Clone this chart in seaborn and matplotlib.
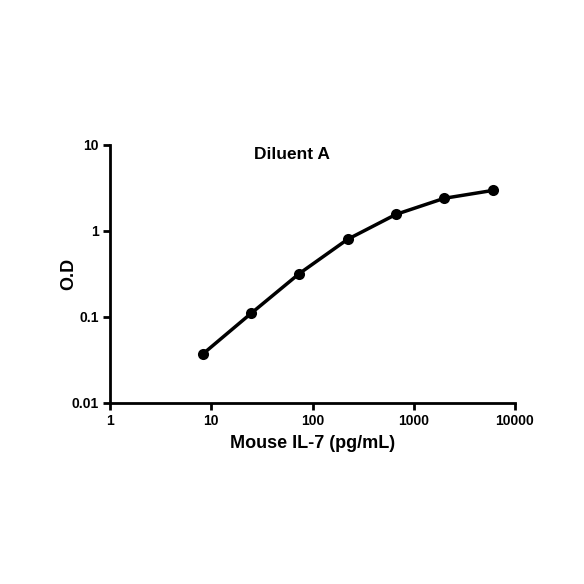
import matplotlib
matplotlib.use("Agg")
import numpy as np
import pandas as pd
import seaborn as sns
import matplotlib.pyplot as plt
from matplotlib.ticker import FixedLocator, FixedFormatter, NullLocator

# standard curve values
conc = [8.23, 24.7, 74.1, 222, 667, 2000, 6000]
od = [0.037, 0.110, 0.32, 0.80, 1.56, 2.40, 2.96]
x_ticks = [1, 10, 100, 1000, 10000]
x_labels = ["1", "10", "100", "1000", "10000"]
y_ticks = [0.01, 0.1, 1, 10]
y_labels = ["0.01", "0.1", "1", "10"]

df = pd.DataFrame({"conc": conc, "od": od})

sns.set_style("white")
plt.rcParams["font.family"] = ["Liberation Sans", "DejaVu Sans"]
plt.rcParams["text.color"] = "black"
plt.rcParams["axes.labelcolor"] = "black"

fig = plt.figure(figsize=(5.84, 5.84), dpi=100)
ax = fig.add_axes([110 / 584, 181 / 584, 405 / 584, 258 / 584])

sns.lineplot(data=df, x="conc", y="od", ax=ax, color="black", linewidth=2.5,
             marker="o", markersize=8, markeredgewidth=0, sort=True)

ax.set_xscale("log")
ax.set_yscale("log")
ax.set_xlim(1, 10000)
ax.set_ylim(0.01, 10)

ax.xaxis.set_major_locator(FixedLocator(x_ticks))
ax.xaxis.set_major_formatter(FixedFormatter(x_labels))
ax.xaxis.set_minor_locator(NullLocator())
ax.yaxis.set_major_locator(FixedLocator(y_ticks))
ax.yaxis.set_major_formatter(FixedFormatter(y_labels))
ax.yaxis.set_minor_locator(NullLocator())

ax.tick_params(axis="both", which="major", direction="out", length=5, width=2,
               colors="black", labelcolor="black", labelsize=10, pad=3,
               bottom=True, left=True)
for lab in ax.get_xticklabels() + ax.get_yticklabels():
    lab.set_fontweight("bold")

sns.despine(ax=ax)
for side in ["left", "bottom"]:
    ax.spines[side].set_linewidth(2)
    ax.spines[side].set_color("black")

ax.set_xlabel("Mouse IL-7 (pg/mL)", fontsize=13, fontweight="bold", labelpad=5)
ax.set_ylabel("O.D", fontsize=13, fontweight="bold", labelpad=-4)
ax.text(0.449, 0.965, "Diluent A", transform=ax.transAxes, ha="center", va="center",
        fontsize=12.5, fontweight="bold", color="black")

fig.savefig("out.png", dpi=100, facecolor="white")
